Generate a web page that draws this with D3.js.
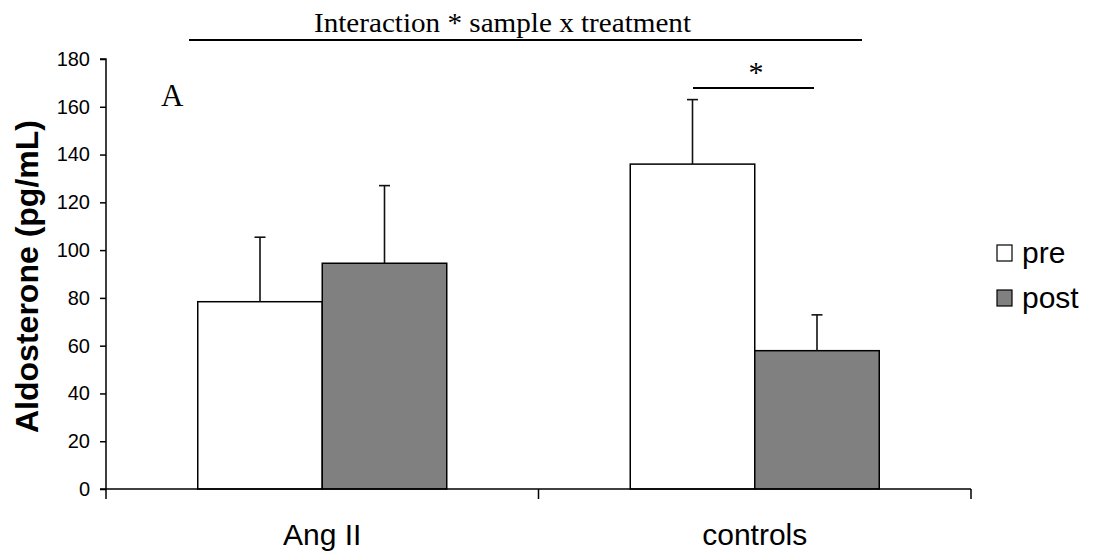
<!DOCTYPE html>
<html>
<head>
<meta charset="utf-8">
<script src="https://cdn.jsdelivr.net/npm/d3@7"></script>
<style>
  html, body { margin: 0; padding: 0; background: #fff; }
  svg { display: block; }
</style>
</head>
<body>
<svg id="chart" width="1097" height="556"></svg>
<script>
// ---- data ----
const categories = ["Ang II", "controls"];
const series = ["pre", "post"];
const preValues = [78.4, 136];
const postValues = [94.5, 57.9];
const preErrors = [27, 27];
const postErrors = [32.5, 15];
const yTicks = [0, 20, 40, 60, 80, 100, 120, 140, 160, 180];
const seriesColors = ["#ffffff", "#808080"];
const titleText = "Interaction * sample x treatment";
const yLabel = "Aldosterone (pg/mL)";
const panelLabel = "A";
const sigLabel = "*";

(function () {
const svg = d3.select("#chart");
const mLeft = 106, mRight = 971, mTop = 59, mBottom = 489;

const x0 = d3.scaleBand().domain(categories).range([mLeft, mRight]).paddingInner(0).paddingOuter(0);
const x1 = d3.scaleBand().domain(series).range([0, x0.bandwidth()]).paddingInner(0).paddingOuter(0.737);
const y = d3.scaleLinear().domain([0, 180]).range([mBottom, mTop]);
const color = d3.scaleOrdinal().domain(series).range(seriesColors);

const rows = [];
categories.forEach((c, i) => {
  rows.push({cat: c, s: "pre", v: preValues[i], e: preErrors[i]});
  rows.push({cat: c, s: "post", v: postValues[i], e: postErrors[i]});
});

// bars
svg.append("g").selectAll("rect").data(rows).join("rect")
  .attr("x", d => x0(d.cat) + x1(d.s))
  .attr("y", d => y(d.v))
  .attr("width", x1.bandwidth())
  .attr("height", d => y(0) - y(d.v))
  .attr("fill", d => color(d.s))
  .attr("stroke", "#000")
  .attr("stroke-width", 1.5);

// error bars (upper only)
const eg = svg.append("g").attr("stroke", "#111").attr("stroke-width", 1.6);
rows.forEach(d => {
  const cx = x0(d.cat) + x1(d.s) + x1.bandwidth() / 2;
  eg.append("line").attr("x1", cx).attr("x2", cx).attr("y1", y(d.v)).attr("y2", y(d.v + d.e));
  eg.append("line").attr("x1", cx - 5.5).attr("x2", cx + 5.5).attr("y1", y(d.v + d.e)).attr("y2", y(d.v + d.e));
});

// y axis
const yAxis = d3.axisLeft(y).tickValues(yTicks).tickSize(6).tickPadding(10).tickFormat(d3.format("d"));
const gy = svg.append("g").attr("transform", `translate(${mLeft},0)`).call(yAxis);
gy.select(".domain").attr("stroke", "#000").attr("stroke-width", 1.5).attr("d", `M-6,${mTop}H0V${mBottom}H-6`);
gy.selectAll(".tick line").attr("stroke", "#000").attr("stroke-width", 1.5);
gy.selectAll(".tick text").attr("font-family", "Liberation Sans, Arial, sans-serif").attr("font-size", 20).attr("fill", "#000");

// x axis
const xAxis = d3.axisBottom(x0).tickSize(0).tickPadding(0).tickFormat(() => "");
const gx = svg.append("g").attr("transform", `translate(0,${mBottom})`).call(xAxis);
gx.select(".domain").attr("stroke", "#000").attr("stroke-width", 1.5).attr("d", `M${mLeft},0H${mRight}`);
gx.selectAll(".tick").remove();
const boundaries = [mLeft, ...categories.map(c => x0(c) + x0.bandwidth())];
gx.selectAll("line.sep").data(boundaries).join("line").attr("class", "sep")
  .attr("x1", d => d).attr("x2", d => d).attr("y1", 0).attr("y2", 10)
  .attr("stroke", "#000").attr("stroke-width", 1.5);
gx.selectAll("text.cat").data(categories).join("text").attr("class", "cat")
  .attr("x", d => x0(d) + x0.bandwidth() / 2)
  .attr("y", 56)
  .attr("text-anchor", "middle")
  .attr("font-family", "Liberation Sans, Arial, sans-serif")
  .attr("font-size", 30)
  .attr("fill", "#000")
  .text(d => d);

// y label
svg.append("text")
  .attr("transform", `translate(38,276.5) rotate(-90)`)
  .attr("text-anchor", "middle")
  .attr("font-family", "Liberation Sans, Arial, sans-serif")
  .attr("font-weight", "bold")
  .attr("font-size", 31)
  .attr("textLength", 313)
  .attr("lengthAdjust", "spacingAndGlyphs")
  .attr("fill", "#000")
  .text(yLabel);

// title + line
svg.append("text")
  .attr("x", 502.5).attr("y", 32)
  .attr("text-anchor", "middle")
  .attr("font-family", "Liberation Serif, 'Times New Roman', serif")
  .attr("font-size", 28)
  .attr("textLength", 377)
  .attr("lengthAdjust", "spacingAndGlyphs")
  .attr("fill", "#000")
  .text(titleText);
svg.append("line").attr("x1", 189).attr("x2", 862).attr("y1", 40).attr("y2", 40)
  .attr("stroke", "#000").attr("stroke-width", 2);

// panel label
svg.append("text")
  .attr("x", 161).attr("y", 106)
  .attr("font-family", "Liberation Serif, 'Times New Roman', serif")
  .attr("font-size", 31)
  .attr("fill", "#000")
  .text(panelLabel);

// significance
svg.append("line").attr("x1", 693).attr("x2", 814).attr("y1", 88).attr("y2", 88)
  .attr("stroke", "#000").attr("stroke-width", 2);
svg.append("text")
  .attr("x", 756).attr("y", 82)
  .attr("text-anchor", "middle")
  .attr("font-family", "Liberation Serif, 'Times New Roman', serif")
  .attr("font-size", 30)
  .attr("fill", "#000")
  .text(sigLabel);

// legend
const lg = svg.append("g");
series.forEach((s, i) => {
  const yy = 245 + i * 45;
  lg.append("rect").attr("x", 997).attr("y", yy).attr("width", 15).attr("height", 16)
    .attr("fill", color(s)).attr("stroke", "#000").attr("stroke-width", 1.2);
  lg.append("text").attr("x", 1022).attr("y", yy + 18)
    .attr("font-family", "Liberation Sans, Arial, sans-serif")
    .attr("font-size", 30)
    .attr("fill", "#000")
    .text(s);
});
})();
</script>
</body>
</html>
